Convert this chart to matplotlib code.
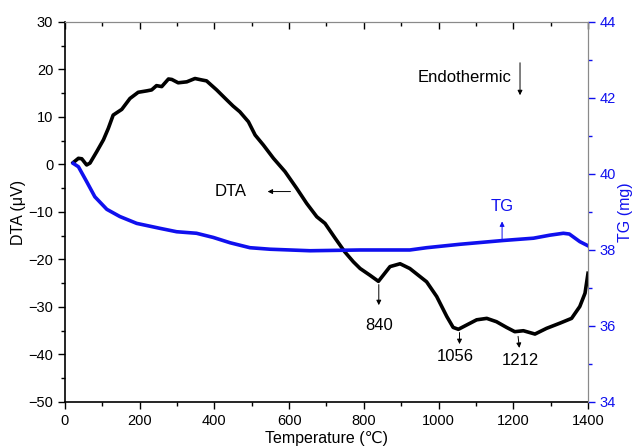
import matplotlib
matplotlib.use("Agg")
from matplotlib import pyplot as plt
from matplotlib.ticker import MultipleLocator

plt.rcParams["font.family"] = ["Liberation Sans", "DejaVu Sans"]

# DTA curve (temperature in C, signal in uV)
dta_t = [22, 36, 45, 58, 67, 85, 103, 116, 129, 152, 174, 196, 219, 232, 245,
         259, 277, 286, 303, 326, 348, 366, 379, 406, 433, 450, 468, 491, 509,
         531, 558, 589, 620, 647, 674, 696, 723, 749, 772, 790, 816, 839, 852,
         870, 897, 923, 968, 995, 1022, 1039, 1053, 1075, 1102, 1129, 1155,
         1182, 1204, 1227, 1258, 1289, 1325, 1356, 1378, 1392, 1400]
dta_v = [0.4, 1.3, 1.2, -0.1, 0.3, 2.7, 5.2, 7.6, 10.4, 11.6, 13.9, 15.2, 15.5,
         15.7, 16.6, 16.4, 18.0, 17.9, 17.2, 17.4, 18.1, 17.8, 17.6, 15.7, 13.6,
         12.3, 11.1, 9.0, 6.2, 4.1, 1.3, -1.5, -5.0, -8.2, -11.0, -12.4, -15.5,
         -18.4, -20.5, -21.9, -23.3, -24.6, -23.3, -21.5, -20.9, -21.9, -24.7,
         -27.8, -32.0, -34.3, -34.7, -33.8, -32.7, -32.4, -33.1, -34.3, -35.2,
         -35.0, -35.7, -34.5, -33.4, -32.4, -29.9, -27.1, -22.9]

# TG curve (temperature in C, mass in mg)
tg_t = [22, 36, 58, 80, 112, 147, 192, 254, 299, 352, 397, 442, 495, 549, 656,
        790, 923, 968, 1057, 1173, 1254, 1298, 1334, 1350, 1378, 1398]
tg_m = [40.28, 40.19, 39.80, 39.40, 39.07, 38.88, 38.70, 38.57, 38.48, 38.44,
        38.33, 38.19, 38.06, 38.02, 37.98, 38.0, 38.0, 38.06, 38.15, 38.25,
        38.31, 38.39, 38.44, 38.42, 38.22, 38.12]

# peak labels
peak_t = [840, 1056, 1212]
peak_top = [-24.7, -34.8, -35.6]
peak_len = [5.5, 3.6, 3.6]

BLUE = "#1010ee"

fig = plt.figure(figsize=(6.32, 4.46), dpi=100)
ax = fig.add_axes((0.1028, 0.0987, 0.8276, 0.852))
ax2 = ax.twinx()

ax.plot(dta_t, dta_v, color="black", lw=2.6, solid_joinstyle="round")
ax2.plot(tg_t, tg_m, color=BLUE, lw=2.6, solid_joinstyle="round")

ax.set_xlim(0, 1400)
ax.set_ylim(-50, 30)
ax2.set_ylim(34, 44)

ax.xaxis.set_major_locator(MultipleLocator(200))
ax.xaxis.set_minor_locator(MultipleLocator(100))
ax.yaxis.set_major_locator(MultipleLocator(10))
ax.yaxis.set_minor_locator(MultipleLocator(5))
ax2.yaxis.set_major_locator(MultipleLocator(2))
ax2.yaxis.set_minor_locator(MultipleLocator(1))

ax.tick_params(axis="both", which="both", labelsize=10.5, color="black", width=1)
ax.tick_params(axis="x", which="both", top=True, direction="out")
ax.tick_params(axis="both", which="major", length=5)
ax.tick_params(axis="both", which="minor", length=3)
ax2.tick_params(axis="y", which="both", colors=BLUE, labelsize=10.5, width=1)
ax2.tick_params(axis="y", which="major", length=5)
ax2.tick_params(axis="y", which="minor", length=3)

# top ticks point inward
for t in ax.xaxis.get_major_ticks() + ax.xaxis.get_minor_ticks():
    t.tick2line.set_marker(3)

for side in ("top", "right"):
    ax.spines[side].set_color("#8a8a8a")
    ax2.spines[side].set_color("#8a8a8a")
ax2.spines["left"].set_visible(False)
ax2.spines["bottom"].set_visible(False)
ax.spines["left"].set_linewidth(1.2)
ax.spines["bottom"].set_linewidth(1.2)

ax.set_xlabel("Temperature (\u2103)", fontsize=11.5, labelpad=2)
ax.set_ylabel("DTA (\u03bcV)", fontsize=11.5, labelpad=2)
ax2.set_ylabel("TG (mg)", fontsize=11.5, color=BLUE, labelpad=1)

arrow = dict(arrowstyle="-|>", color="black", lw=0.7, mutation_scale=7)

ax.annotate("", xy=(1218, 14), xytext=(1218, 22), arrowprops=arrow)
ax.text(1194, 18.3, "Endothermic", fontsize=12, ha="right", va="center")

ax.annotate("", xy=(535, -5.7), xytext=(611, -5.7), arrowprops=arrow)
ax.text(443, -5.7, "DTA", fontsize=12, ha="center", va="center")

ax.annotate("", xy=(1170, -11.4), xytext=(1170, -16.3),
            arrowprops=dict(arrowstyle="-|>", color=BLUE, lw=0.7, mutation_scale=7))
ax.text(1170, -8.9, "TG", fontsize=12, ha="center", va="center", color=BLUE)

label_pos = [(840, -33.8), (1044, -40.5), (1218, -41.2)]
arrow_dx = [0, 0, 5]
for t, top, ln, (tx, ty), adx in zip(peak_t, peak_top, peak_len, label_pos, arrow_dx):
    ax.annotate("", xy=(t + adx, top - ln), xytext=(t, top), arrowprops=arrow)
    ax.text(tx, ty, str(t), fontsize=12, ha="center", va="center")

fig.savefig("out.png", dpi=100)
